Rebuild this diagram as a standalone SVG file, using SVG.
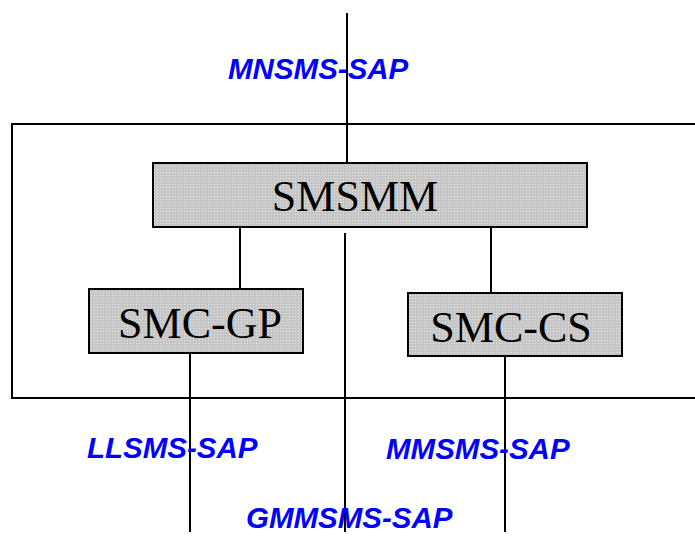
<svg xmlns="http://www.w3.org/2000/svg" width="695" height="536" viewBox="0 0 695 536">
<style>
.box{fill:url(#dots);stroke:#000;stroke-width:2}
.line{stroke:#000;stroke-width:2;fill:none}
.nt{font-family:"Liberation Serif","Times New Roman",serif;font-size:44px;fill:#000;text-anchor:middle}
.sap{font-family:"Liberation Sans",Arial,sans-serif;font-size:29.5px;font-weight:bold;font-style:italic;fill:#0000ff}
</style>
<defs>
<pattern id="dots" width="3" height="3" patternUnits="userSpaceOnUse">
<rect width="3" height="3" fill="#c6c6c6"/>
<rect x="1" y="1" width="1" height="1" fill="#e6e6e6"/>
</pattern>
</defs>
<rect x="0" y="0" width="695" height="536" fill="#fff"/>
<g id="frame">
<path class="line" d="M 700 124 H 12 V 398 H 700"/>
</g>
<g id="connectors">
<line class="line" x1="347" y1="13" x2="347" y2="163"/>
<line class="line" x1="240" y1="227" x2="240" y2="289"/>
<line class="line" x1="491" y1="227" x2="491" y2="293"/>
<line class="line" x1="345" y1="233" x2="345" y2="532"/>
<line class="line" x1="190" y1="353" x2="190" y2="532"/>
<line class="line" x1="505" y1="356" x2="505" y2="532"/>
</g>
<g id="smsmm">
<rect class="box" x="153" y="163" width="434" height="64"/>
<text class="nt" x="355" y="211">SMSMM</text>
</g>
<g id="smc-gp">
<rect class="box" x="89" y="289" width="214" height="64"/>
<text class="nt" x="200" y="338">SMC-GP</text>
</g>
<g id="smc-cs">
<rect class="box" x="408" y="293" width="214" height="63"/>
<text class="nt" x="511" y="342">SMC-CS</text>
</g>
<g id="labels">
<text class="sap" x="228" y="79">MNSMS-SAP</text>
<text class="sap" x="87" y="458">LLSMS-SAP</text>
<text class="sap" x="386" y="459">MMSMS-SAP</text>
<text class="sap" x="246" y="528">GMMSMS-SAP</text>
</g>
</svg>
